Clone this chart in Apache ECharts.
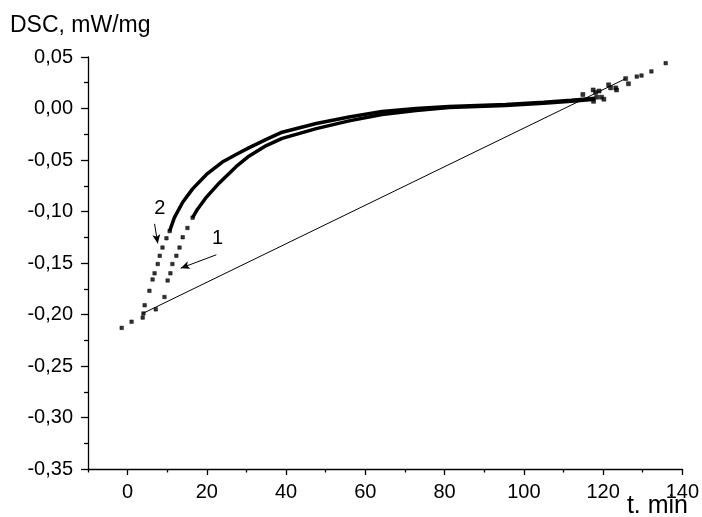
<!DOCTYPE html>
<html>
<head>
<meta charset="utf-8">
<script src="https://cdn.jsdelivr.net/npm/echarts@6/dist/echarts.min.js"></script>
<style>
  html, body { margin: 0; background: #fff; }
  #chart { width: 702px; height: 517px; }
</style>
</head>
<body>
<div id="chart"></div>
<script>
// tick values
const xTicks = [0, 20, 40, 60, 80, 100, 120, 140];
const xMinorTicks = [-10, 10, 30, 50, 70, 90, 110, 130];

// sparse points lying on the baseline before and after the peak
const baseDots = [[-1.5, -0.213], [1.0, -0.207], [3.8, -0.203]];
const tailDots = [[128.5, 0.031], [129.7, 0.032], [132.2, 0.036], [135.8, 0.044]];

// baseline drawn under the peak
const baseLine = [[3.8, -0.199], [125.7, 0.029]];

// curve 1: separate points at the start, then the dense part
const curve1Dots = [
  [7.1, -0.195], [9.3, -0.183], [10.1, -0.167], [10.8, -0.160], [11.3, -0.151],
  [12.3, -0.143], [13.1, -0.135], [13.9, -0.125], [15.1, -0.116], [16.4, -0.106]
];
const curve1Dense = [
  [16.4, -0.106], [17.6, -0.098], [19.9, -0.086], [23.2, -0.072], [27.5, -0.056],
  [30.7, -0.046], [35, -0.036], [39, -0.029], [47.6, -0.0195], [55.9, -0.012],
  [64.2, -0.0058], [72.8, -0.002], [81.1, 0.001], [95.4, 0.003], [105, 0.005],
  [112, 0.007], [118, 0.009]
];

// curve 2
const curve2Dots = [
  [4.0, -0.199], [4.3, -0.191], [5.5, -0.177], [6.3, -0.166], [6.8, -0.160],
  [7.6, -0.151], [8.1, -0.143], [8.8, -0.135], [9.8, -0.126], [10.6, -0.119]
];
const curve2Dense = [
  [10.6, -0.119], [11.8, -0.106], [13.9, -0.091], [16.4, -0.078], [19.9, -0.064],
  [23.9, -0.052], [28.2, -0.043], [30.7, -0.038], [35, -0.030], [39, -0.023],
  [47.6, -0.0146], [55.9, -0.0083], [64.2, -0.0029], [72.8, 0.0], [81.1, 0.002],
  [95.4, 0.004], [105, 0.006], [112, 0.008], [118, 0.010]
];

// scattered points at the end of the run
const noiseDots = [
  [114.9, 0.0136], [117.5, 0.018], [118.1, 0.0156], [118.4, 0.011], [119.0, 0.017],
  [119.6, 0.011], [120.2, 0.009], [121.4, 0.023], [121.9, 0.020], [123.2, 0.020],
  [123.4, 0.018], [125.7, 0.029], [126.4, 0.024], [117.6, 0.007]
];

// curve labels and their arrows
const curveLabels = [
  { name: '1', coord: [22.7, -0.1265] },
  { name: '2', coord: [8.1, -0.097] }
];
const arrows = [
  [[22.4, -0.142], [13.4, -0.155]],
  [[6.8, -0.112], [7.6, -0.131]]
];

const font = '"Liberation Sans", Arial, sans-serif';
const black = '#000';

const chart = echarts.init(document.getElementById('chart'));

const dotSeries = data => ({
  type: 'scatter',
  data: data,
  symbol: 'rect',
  symbolSize: 3.5,
  itemStyle: { color: black, borderColor: black, borderWidth: 0.6 },
  silent: true
});

const lineSeries = (data, width) => ({
  type: 'line',
  data: data,
  showSymbol: false,
  lineStyle: { color: black, width: width },
  silent: true
});

const option = {
  animation: false,
  backgroundColor: '#fff',
  grid: { left: 88, right: 18, top: 57, bottom: 48 },
  xAxis: [
    {
      type: 'value',
      min: -10,
      max: 140,
      splitLine: { show: false },
      axisLine: { onZero: false, lineStyle: { color: black, width: 1.3 } },
      axisTick: { length: 6, customValues: xTicks, lineStyle: { color: black, width: 1.3 } },
      axisLabel: {
        customValues: xTicks,
        margin: 13,
        color: black,
        fontSize: 20,
        fontFamily: font
      }
    },
    {
      type: 'value',
      min: -10,
      max: 140,
      position: 'bottom',
      splitLine: { show: false },
      axisLine: { show: false, onZero: false },
      axisTick: { length: 3.5, customValues: xMinorTicks, lineStyle: { color: black, width: 1.3 } },
      axisLabel: { show: false }
    }
  ],
  yAxis: {
    type: 'value',
    min: -0.35,
    max: 0.05,
    interval: 0.05,
    splitLine: { show: false },
    axisLine: { show: true, onZero: false, lineStyle: { color: black, width: 1.3 } },
    axisTick: { show: true, length: 7, lineStyle: { color: black, width: 1.3 } },
    minorTick: { show: true, splitNumber: 2, length: 4, lineStyle: { color: black, width: 1.3 } },
    axisLabel: {
      margin: 15,
      color: black,
      fontSize: 20,
      fontFamily: font,
      formatter: v => v.toFixed(2).replace('-0.00', '0.00').replace('.', ',')
    }
  },
  graphic: [
    {
      type: 'text',
      left: 10,
      top: 14,
      style: { text: 'DSC, mW/mg', fill: black, font: '23px ' + font }
    },
    {
      type: 'text',
      right: 14,
      top: 494,
      style: { text: 't. min', fill: black, font: '25px ' + font }
    }
  ],
  series: [
    Object.assign(lineSeries(baseLine, 1), {
      markLine: {
        silent: true,
        symbol: ['none', 'arrow'],
        symbolSize: [6, 9],
        label: { show: false },
        lineStyle: { color: black, width: 1, type: 'solid' },
        data: arrows.map(a => [{ coord: a[0] }, { coord: a[1] }])
      },
      markPoint: {
        silent: true,
        symbol: 'circle',
        symbolSize: 1,
        itemStyle: { color: 'rgba(0,0,0,0)' },
        label: {
          show: true,
          position: 'inside',
          formatter: p => p.name,
          color: black,
          fontSize: 20,
          fontFamily: font
        },
        data: curveLabels.map(l => ({ name: l.name, coord: l.coord }))
      }
    }),
    lineSeries(curve1Dense, 3.5),
    lineSeries(curve2Dense, 3.5),
    dotSeries(curve1Dots),
    dotSeries(curve2Dots),
    dotSeries(baseDots),
    dotSeries(tailDots),
    Object.assign(dotSeries(noiseDots), { symbolSize: 4 })
  ]
};

chart.setOption(option);
</script>
</body>
</html>
